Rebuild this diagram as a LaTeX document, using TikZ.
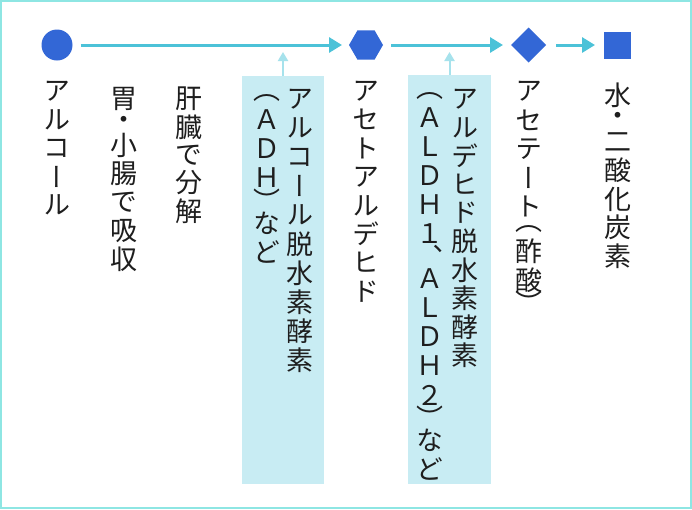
\documentclass[tikz,border=0pt]{standalone}
\usepackage{fontspec}
\newfontfamily\jpfont[RawFeature=+vert]{Noto Sans CJK JP}
\usetikzlibrary{shapes.geometric,arrows.meta}
\definecolor{framec}{HTML}{8EE6E3}
\definecolor{nodeblue}{HTML}{3367D6}
\definecolor{flowc}{HTML}{4CC2D8}
\definecolor{enzfill}{HTML}{C8ECF3}
\definecolor{enzarrow}{HTML}{A6E2EC}
\definecolor{txt}{HTML}{1E1E1E}
\newlength\vpitch \setlength\vpitch{28.5pt}
\newcommand\vch[2][\vpitch]{\hbox to 27pt{\hss\vbox to #1{\vss\hbox{#2}\vss}\hss}}
\newcommand\vcolumn[1]{\vbox{\offinterlineskip#1}}
\tikzset{
  col/.style={inner sep=0pt, outer sep=0pt, anchor=north, text=txt, font=\jpfont\fontsize{27}{28}\selectfont},
  flow/.style={draw=flowc, line width=3pt, -{Triangle[length=13pt,width=15pt]}, shorten <=8pt, shorten >=7pt},
  enzarr/.style={draw=enzarrow, line width=2pt, -{Triangle[length=9pt,width=10pt]}},
  enzbox/.style={fill=enzfill, draw=none, inner sep=0pt},
  stage/.style={fill=nodeblue, draw=none, inner sep=0pt, outer sep=0pt},
}
\begin{document}
\begin{tikzpicture}[x=1pt,y=-1pt]
\useasboundingbox (0,0) rectangle (692,509);
\fill[white] (0,0) rectangle (692,509);
\draw[framec, line width=2pt] (1,1) rectangle (691,508);

% enzyme boxes
\node[enzbox, minimum width=82pt, minimum height=408pt] (adh) at (283,280) {};
\node[enzbox, minimum width=83pt, minimum height=409pt] (aldh) at (449.5,279.5) {};

% stages
\node[stage, circle, minimum size=31pt] (alc) at (57,45) {};
\node[stage, regular polygon, regular polygon sides=6, minimum size=34pt] (ald) at (366,45) {};
\node[stage, diamond, minimum width=35pt, minimum height=35pt] (ace) at (528.5,45) {};
\node[stage, rectangle, minimum size=27pt] (end) at (617.5,45) {};

\draw[flow] (alc) -- (ald);
\draw[flow, shorten <=8pt, shorten >=8pt] (ald) -- (ace);
\draw[flow, shorten <=10pt, shorten >=9pt] (ace) -- (end);

\coordinate (adhtip) at (283,52);
\coordinate (aldhtip) at (449.5,52);
\draw[enzarr] (adh.north) -- (adhtip);
\draw[enzarr] (aldh.north) -- (aldhtip);

% text columns
\node[col] (t1) at (57,76.75) {\vcolumn{\vch{ア}\vch{ル}\vch{コ}\vch{ー}\vch{ル}}};
\node[col] (t2) at (124,85) {\vcolumn{\vch{胃}\vch[18pt]{・}\vch{小}\vch{腸}\vch{で}\vch{吸}\vch{収}}};
\node[col] (t3) at (189,85) {\setlength\vpitch{28pt}\vcolumn{\vch{肝}\vch{臓}\vch{で}\vch{分}\vch{解}}};
\node[col] (t4a) at (300,84.5) {\setlength\vpitch{29pt}\vcolumn{\vch{ア}\vch{ル}\vch{コ}\vch{ー}\vch{ル}\vch{脱}\vch{水}\vch{素}\vch{酵}\vch{素}}};
\node[col] (t4b) at (266.5,89.5) {\setlength\vpitch{29pt}\vcolumn{\vch[16pt]{（}\vch{Ａ}\vch{Ｄ}\vch{Ｈ}\vch[16pt]{）}\vch{な}\vch{ど}}};
\node[col] (t5) at (366,76.7) {\setlength\vpitch{28.6pt}\vcolumn{\vch{ア}\vch{セ}\vch{ト}\vch{ア}\vch{ル}\vch{デ}\vch{ヒ}\vch{ド}}};
\node[col] (t6a) at (465,84.75) {\vcolumn{\vch{ア}\vch{ル}\vch{デ}\vch{ヒ}\vch{ド}\vch{脱}\vch{水}\vch{素}\vch{酵}\vch{素}}};
\node[col] (t6b) at (430,87.5) {\setlength\vpitch{29pt}\vcolumn{\vch[16pt]{（}\vch{Ａ}\vch{Ｌ}\vch{Ｄ}\vch{Ｈ}\vch{１}\vch[16pt]{、}\vch{Ａ}\vch{Ｌ}\vch{Ｄ}\vch{Ｈ}\vch{２}\vch[16pt]{）}\vch{な}\vch{ど}}};
\node[col] (t7) at (529,77.25) {\setlength\vpitch{28.7pt}\vcolumn{\vch{ア}\vch{セ}\vch{テ}\vch{ー}\vch{ト}\vch[16pt]{（}\vch{酢}\vch{酸}\vch[16pt]{）}}};
\node[col] (t8) at (617.5,81.25) {\vcolumn{\vch{水}\vch[18pt]{・}\vch{二}\vch{酸}\vch{化}\vch{炭}\vch{素}}};
\end{tikzpicture}
\end{document}
